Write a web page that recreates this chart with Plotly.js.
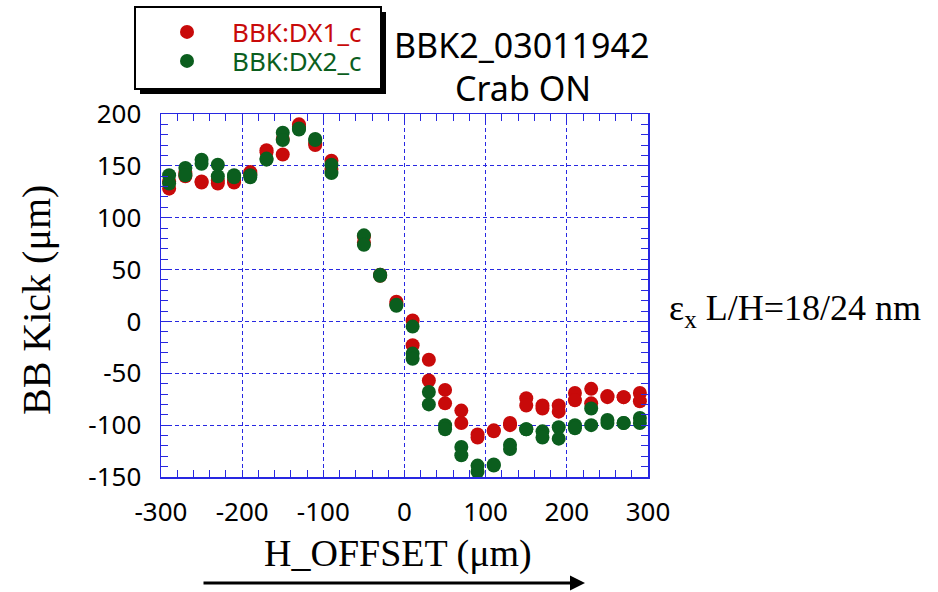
<!DOCTYPE html>
<html>
<head>
<meta charset="utf-8">
<script src="https://cdn.plot.ly/plotly-3.0.1.min.js"></script>
<style>html,body{margin:0;padding:0;background:#fff;}#chart{width:938px;height:592px;}</style>
</head>
<body>
<div id="chart"></div>
<script>
// H_OFFSET (um) and BB kick (um) values
const dx1X = [-290,-290,-270,-270,-250,-250,-230,-230,-210,-210,-190,-190,-170,-170,-150,-150,-130,-130,-110,-110,-90,-90,
              -50,-50,-30,-30,-10,-10,10,10,30,30,50,50,70,70,90,90,110,110,130,130,150,150,170,170,190,190,210,210,230,230,250,250,270,270,290,290];
const dx1Y = [128,135,140,143,134,135,133,136,134,136,142,144,165,163,161,176,190,188,170,172,155,147,
              82,76,45,44,19,17,1,-23,-37,-57,-66,-79,-86,-98,-109,-112,-105,-106,-98,-100,-74,-81,-81,-84,-81,-87,-69,-76,-65,-79,-72,-73,-73,-73,-69,-77];
const dx2X = [-290,-290,-270,-270,-250,-250,-230,-230,-210,-210,-190,-190,-170,-170,-150,-150,-130,-130,-110,-110,-90,-90,
              -50,-50,-30,-30,-10,-10,10,10,10,30,30,50,50,70,70,90,90,110,110,130,130,150,150,170,170,190,190,210,210,230,230,250,250,270,270,290,290];
const dx2Y = [141,133,148,141,156,152,151,140,141,139,139,141,156,157,182,175,185,186,176,175,151,143,
              83,74,44,45,15,16,-5,-31,-36,-68,-80,-100,-104,-121,-129,-139,-145,-139,-138,-119,-123,-104,-104,-106,-112,-102,-113,-100,-103,-84,-100,-95,-98,-98,-98,-93,-98];
const xTicks = [-300,-200,-100,0,100,200,300];
const xTickText = ["-300","-200","-100","0","100","200","300"];
const yTicks = [-150,-100,-50,0,50,100,150,200];
const yTickText = ["-150","-100","-50","0","50","100","150","200"];
const seriesNames = ["BBK:DX1_c","BBK:DX2_c"];
const titleLines = ["BBK2_03011942","Crab ON"];

const RED = "#c80a0a", GREEN = "#0b5e1e", BLUE = "rgb(40,40,225)";
const SANS = "Noto Sans", SERIF = "Liberation Serif";

// pixel helpers for paper positioning (plot area 161..648 x 114..477)
const PX = p => (p - 161) / 487;
const PY = p => (477 - p) / 363;

const traces = [
  {x: dx1X, y: dx1Y, type: "scatter", mode: "markers", name: seriesNames[0], legend: "legend",
   marker: {color: RED, size: 14}},
  {x: dx2X, y: dx2Y, type: "scatter", mode: "markers", name: seriesNames[1], legend: "legend2",
   marker: {color: GREEN, size: 14}}
];

const axisCommon = {
  showline: true, linecolor: BLUE, linewidth: 1.5, mirror: "allticks",
  ticks: "inside", ticklen: 7, tickcolor: BLUE, tickwidth: 1,
  showgrid: true, gridcolor: BLUE, griddash: "4px,3px", gridwidth: 1,
  zeroline: false,
  tickfont: {family: SANS, size: 26, color: "#000"}
};

const legendCommon = {xanchor: "left", yanchor: "middle", bgcolor: "rgba(0,0,0,0)", borderwidth: 0, itemwidth: 80};

const layout = {
  width: 938, height: 592,
  margin: {l: 161, r: 290, t: 114, b: 115, autoexpand: false},
  paper_bgcolor: "#fff", plot_bgcolor: "#fff",
  showlegend: true,
  legend: Object.assign({}, legendCommon, {x: PX(142), y: PY(32), font: {family: SANS, size: 26, color: RED}}),
  legend2: Object.assign({}, legendCommon, {x: PX(142), y: PY(61), font: {family: SANS, size: 26, color: GREEN}}),
  xaxis: Object.assign({}, axisCommon, {range: [-300, 300], tickvals: xTicks, ticktext: xTickText, ticklabelstandoff: 11,
         minor: {dtick: 20, ticks: "inside", ticklen: 7, tickcolor: BLUE, showgrid: false}}),
  yaxis: Object.assign({}, axisCommon, {range: [-150, 200], tickvals: yTicks, ticktext: yTickText, ticklabelstandoff: 13,
         minor: {dtick: 10, ticks: "inside", ticklen: 7, tickcolor: BLUE, showgrid: false}}),
  shapes: [
    {type: "rect", xref: "paper", yref: "paper", x0: PX(140), x1: PX(386), y0: PY(94), y1: PY(12),
     fillcolor: "#000", line: {width: 0}, layer: "above"},
    {type: "rect", xref: "paper", yref: "paper", x0: PX(135), x1: PX(381), y0: PY(89), y1: PY(7),
     fillcolor: "#fff", line: {width: 2, color: "#000"}, layer: "above"}
  ],
  annotations: [
    {xref: "paper", yref: "paper", x: PX(521), y: PY(45), text: titleLines[0], showarrow: false,
     xanchor: "center", yanchor: "middle", font: {family: SANS, size: 34, color: "#000"}},
    {xref: "paper", yref: "paper", x: PX(523), y: PY(88), text: titleLines[1], showarrow: false,
     xanchor: "center", yanchor: "middle", font: {family: SANS, size: 34, color: "#000"}},
    {xref: "paper", yref: "paper", x: PX(36), y: PY(300), text: "BB Kick (μm)", showarrow: false, textangle: -90,
     xanchor: "center", yanchor: "middle", font: {family: SERIF, size: 40, color: "#000"}},
    {xref: "paper", yref: "paper", x: PX(398), y: PY(553), text: "H_OFFSET (μm)", showarrow: false,
     xanchor: "center", yanchor: "middle", font: {family: SERIF, size: 38, color: "#000"}},
    {xref: "paper", yref: "paper", x: PX(667), y: PY(310), text: "ε<sub>x</sub> L/H=18/24 nm", showarrow: false,
     xanchor: "left", yanchor: "middle", font: {family: SERIF, size: 36, color: "#000"}},
    {xref: "paper", yref: "paper", x: PX(585), y: PY(583), ax: -383, ay: 0, text: "", showarrow: true,
     arrowhead: 2, arrowsize: 1, arrowwidth: 3, arrowcolor: "#000"}
  ]
};

Plotly.newPlot("chart", traces, layout, {displayModeBar: false, staticPlot: true});
</script>
</body>
</html>
